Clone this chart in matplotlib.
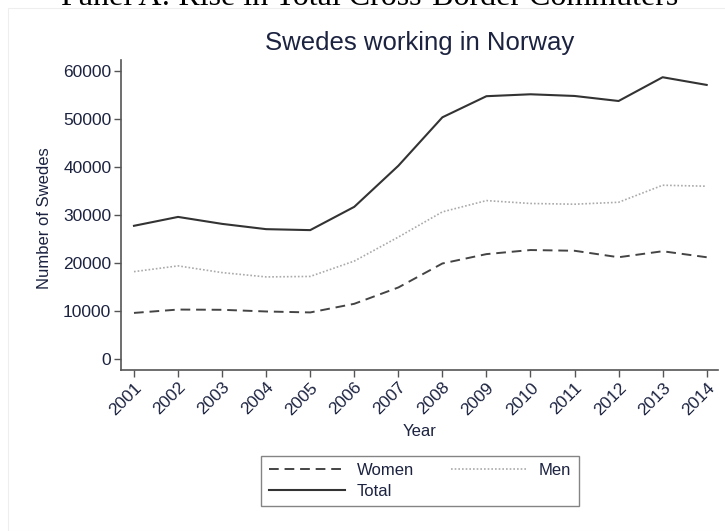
import numpy as np
import matplotlib.pyplot as plt
from matplotlib.patches import Rectangle

years = list(range(2001, 2015))
women = [9600, 10300, 10250, 9900, 9700, 11500, 14900, 19900, 21850, 22700, 22550, 21200, 22450, 21200]
men = [18200, 19400, 18000, 17100, 17200, 20400, 25400, 30650, 33000, 32400, 32250, 32650, 36200, 36000]
total = [27750, 29600, 28150, 27050, 26850, 31700, 40250, 50350, 54750, 55150, 54800, 53750, 58700, 57100]
yticks = [0, 10000, 20000, 30000, 40000, 50000, 60000]

txt = '#1c2340'
axc = '#555555'

fig = plt.figure(figsize=(7.25, 5.31), dpi=100)
W, H = 725, 531

# рамка области графика
fig.patches.append(Rectangle((8 / W, 0), 1, 1 - 8 / H, transform=fig.transFigure,
                             fill=False, edgecolor='#eeeeee', linewidth=0.8))
# заголовок панели, обрезанный сверху
fig.text(0.51, 1 - 5 / H, 'Panel A: Rise in Total Cross-Border Commuters',
         ha='center', va='baseline', fontsize=23, family='Liberation Serif', color='black')

ax = fig.add_axes([121 / W, 1 - 370 / H, (718 - 121) / W, (370 - 60) / H])
l_w, = ax.plot(years, women, color='#444444', linestyle=(0, (5, 3)), linewidth=1.4, label='Women')
l_m, = ax.plot(years, men, color='#aaaaaa', linestyle=(0, (1, 1.2)), linewidth=1.2, label='Men')
l_t, = ax.plot(years, total, color='#333333', linestyle='-', linewidth=1.5, label='Total')

ax.set_xlim(2000.705, 2014.257)
ax.set_ylim(-2292, 62292)
ax.set_xticks(years)
ax.set_xticklabels([str(y) for y in years], rotation=45, ha='right', rotation_mode='anchor')
ax.set_yticks(yticks)
ax.set_yticklabels([str(v) for v in yticks])
ax.tick_params(colors=axc, labelcolor=txt, labelsize=12.5, length=5, width=1, pad=2)
for s in ['top', 'right']:
    ax.spines[s].set_visible(False)
for s in ['left', 'bottom']:
    ax.spines[s].set_color(axc)
    ax.spines[s].set_linewidth(1.2)

for t in ax.get_xticklabels() + ax.get_yticklabels():
    t.set_family('Liberation Sans')

fig.text(420 / W, 1 - 43 / H, 'Swedes working in Norway', ha='center', va='center',
         fontsize=18.5, family='Liberation Sans', color=txt)
fig.text(420 / W, 1 - 432 / H, 'Year', ha='center', va='center',
         fontsize=12, family='Liberation Sans', color=txt)
fig.text(45 / W, 1 - 218 / H, 'Number of Swedes', ha='center', va='center', rotation=90,
         fontsize=12, family='Liberation Sans', color=txt)

# порядок: Women, Men в первой строке, Total во второй
leg = ax.legend([l_w, l_t, l_m], ['Women', 'Total', 'Men'],
                loc='center', bbox_to_anchor=(420 / W, 1 - 481 / H), bbox_transform=fig.transFigure,
                ncol=2, frameon=True, fancybox=False, edgecolor='#666666', handlelength=4.6,
                columnspacing=2.2, handletextpad=0.7, labelspacing=0.35, borderpad=0.45,
                prop={'family': 'Liberation Sans', 'size': 12})
leg.get_frame().set_linewidth(1.0)
for t in leg.get_texts():
    t.set_color(txt)

fig.savefig('out.png', dpi=100)
